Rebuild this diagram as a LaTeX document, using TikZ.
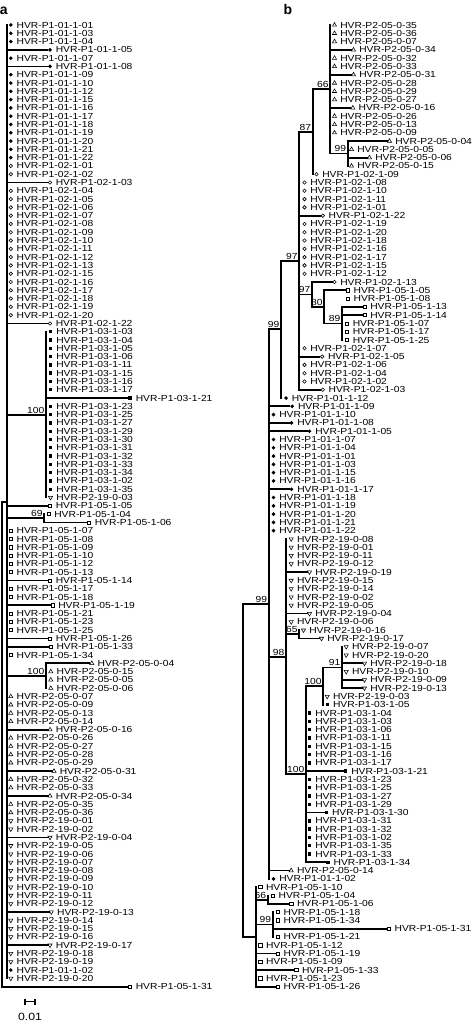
\documentclass[tikz,border=0pt]{standalone}
\usepackage{fontspec}
\usetikzlibrary{shapes.geometric,calc}
\newfontfamily\labfam[FakeStretch=1.17]{Liberation Sans}
\newfontfamily\hdfam{Liberation Sans}
\newcommand\labfont{\labfam\fontsize{8.8}{9}\selectfont}
\tikzset{
  mk/.style={inner sep=0pt, outer sep=0pt},
  mFC/.style={mk, circle, fill=black, minimum size=3.9pt},
  mOC/.style={mk, circle, draw=black, line width=0.6pt, minimum size=3.5pt},
  mFS/.style={mk, rectangle, fill=black, minimum size=3.4pt},
  mOS/.style={mk, rectangle, draw=black, line width=0.6pt, minimum size=3.2pt},
  mTU/.style={mk, regular polygon, regular polygon sides=3, draw=black, line width=0.55pt, minimum size=4.8pt},
  mTD/.style={mTU, shape border rotate=180},
  lab/.style={inner sep=0pt, anchor=west, font=\labfont},
  bs/.style={inner sep=0pt, anchor=south east, font=\labfont},
  br/.style={line width=1.8pt},
  brv/.style={line width=1.8pt, line cap=rect},
}
\newcommand\inode[4]{%
  \path let \p1=(#3), \p2=(#4) in coordinate (#1) at (#2pt,{0.5*\y1+0.5*\y2});
  \draw[brv] (#1 |- #3) -- (#1 |- #4);}
\newcommand\hb[2]{\draw[br] (#1 |- #2) -- (#2.west);}
\newcommand\bsl[2]{\node[bs] (bs#1) at ([xshift=-1.5pt,yshift=1.3pt]#1) {#2};}
\begin{document}
\begin{tikzpicture}[x=1pt,y=-1pt]
\path[use as bounding box, fill=white] (0,0) rectangle (473,1024);
% ---------------- panel a leaves
\foreach \rw/\mx/\sty/\txt in {
1/10.8/mFC/P1-01-1-01, 2/10.8/mFC/P1-01-1-03, 3/10.8/mFC/P1-01-1-04, 4/50/mFC/P1-01-1-05,
5/10.8/mFC/P1-01-1-07, 6/50/mFC/P1-01-1-08, 7/10.8/mFC/P1-01-1-09, 8/10.8/mFC/P1-01-1-10,
9/10.8/mFC/P1-01-1-12, 10/10.8/mFC/P1-01-1-15, 11/10.8/mFC/P1-01-1-16, 12/10.8/mFC/P1-01-1-17,
13/10.8/mFC/P1-01-1-18, 14/10.8/mFC/P1-01-1-19, 15/10.8/mFC/P1-01-1-20, 16/10.8/mFC/P1-01-1-21,
17/10.8/mFC/P1-01-1-22, 18/10.8/mOC/P1-02-1-01, 19/10.8/mOC/P1-02-1-02, 20/50/mOC/P1-02-1-03,
21/10.8/mOC/P1-02-1-04, 22/10.8/mOC/P1-02-1-05, 23/10.8/mOC/P1-02-1-06, 24/10.8/mOC/P1-02-1-07,
25/10.8/mOC/P1-02-1-08, 26/10.8/mOC/P1-02-1-09, 27/10.8/mOC/P1-02-1-10, 28/10.8/mOC/P1-02-1-11,
29/10.8/mOC/P1-02-1-12, 30/10.8/mOC/P1-02-1-13, 31/10.8/mOC/P1-02-1-15, 32/10.8/mOC/P1-02-1-16,
33/10.8/mOC/P1-02-1-17, 34/10.8/mOC/P1-02-1-18, 35/10.8/mOC/P1-02-1-19, 36/10.8/mOC/P1-02-1-20,
37/50/mOC/P1-02-1-22,
38/50.5/mFS/P1-03-1-03, 39/50.5/mFS/P1-03-1-04, 40/50.5/mFS/P1-03-1-05, 41/50.5/mFS/P1-03-1-06,
42/50.5/mFS/P1-03-1-11, 43/50.5/mFS/P1-03-1-15, 44/50.5/mFS/P1-03-1-16, 45/50.5/mFS/P1-03-1-17,
46/130/mFS/P1-03-1-21, 47/50.5/mFS/P1-03-1-23, 48/50.5/mFS/P1-03-1-25, 49/50.5/mFS/P1-03-1-27,
50/50.5/mFS/P1-03-1-29, 51/50.5/mFS/P1-03-1-30, 52/50.5/mFS/P1-03-1-31, 53/50.5/mFS/P1-03-1-32,
54/50.5/mFS/P1-03-1-33, 55/50.5/mFS/P1-03-1-34, 56/50.5/mFS/P1-03-1-02, 57/50.5/mFS/P1-03-1-35,
58/50.5/mTD/P2-19-0-03,
59/50/mOS/P1-05-1-05, 60/48.5/mOS/P1-05-1-04, 61/89/mOS/P1-05-1-06, 62/10.8/mOS/P1-05-1-07,
63/10.8/mOS/P1-05-1-08, 64/10.8/mOS/P1-05-1-09, 65/10.8/mOS/P1-05-1-10, 66/10.8/mOS/P1-05-1-12,
67/10.8/mOS/P1-05-1-13, 68/50/mOS/P1-05-1-14, 69/10.8/mOS/P1-05-1-17, 70/10.8/mOS/P1-05-1-18,
71/52.5/mOS/P1-05-1-19, 72/10.8/mOS/P1-05-1-21, 73/10.8/mOS/P1-05-1-23, 74/10.8/mOS/P1-05-1-25,
75/50/mOS/P1-05-1-26, 76/50.7/mOS/P1-05-1-33, 77/10.8/mOS/P1-05-1-34,
78/91.8/mTU/P2-05-0-04, 79/50.8/mTU/P2-05-0-15, 80/50.8/mTU/P2-05-0-05, 81/50.8/mTU/P2-05-0-06,
82/10.8/mTU/P2-05-0-07, 83/10.8/mTU/P2-05-0-09, 84/10.8/mTU/P2-05-0-13, 85/10.8/mTU/P2-05-0-14,
86/50/mTU/P2-05-0-16, 87/10.8/mTU/P2-05-0-26, 88/10.8/mTU/P2-05-0-27, 89/10.8/mTU/P2-05-0-28,
90/10.8/mTU/P2-05-0-29, 91/54/mTU/P2-05-0-31, 92/10.8/mTU/P2-05-0-32, 93/10.8/mTU/P2-05-0-33,
94/50/mTU/P2-05-0-34, 95/10.8/mTU/P2-05-0-35, 96/10.8/mTU/P2-05-0-36,
97/10.8/mTD/P2-19-0-01, 98/10.8/mTD/P2-19-0-02, 99/50/mTD/P2-19-0-04, 100/10.8/mTD/P2-19-0-05,
101/10.8/mTD/P2-19-0-06, 102/10.8/mTD/P2-19-0-07, 103/10.8/mTD/P2-19-0-08, 104/10.8/mTD/P2-19-0-09,
105/10.8/mTD/P2-19-0-10, 106/10.8/mTD/P2-19-0-11, 107/10.8/mTD/P2-19-0-12, 108/51.3/mTD/P2-19-0-13,
109/10.8/mTD/P2-19-0-14, 110/10.8/mTD/P2-19-0-15, 111/10.8/mTD/P2-19-0-16, 112/50/mTD/P2-19-0-17,
113/10.8/mTD/P2-19-0-18, 114/10.8/mTD/P2-19-0-19, 115/10.8/mFC/P1-01-1-02, 116/10.8/mTD/P2-19-0-20,
117/130/mOS/P1-05-1-31}{%
  \pgfmathsetmacro\yy{25+(\rw-1)*8.29}%
  \edef\tmp{\noexpand\node[\sty] (a\rw) at (\mx,\yy) {};}\tmp
  \node[lab] (la\rw) at ([xshift=5.6pt]a\rw.center) {HVR-\txt};
}
% panel a internal nodes
\inode{naC100}{46}{a38}{a58}
\inode{naC69}{44.3}{a60}{a61}
\inode{naC100b}{46}{a78}{a81}
\inode{naP}{7}{a1}{a116}
\inode{naR}{2.3}{naP}{a117}
\foreach \c in {4,6,20,37,59,68,71,75,76,86,91,94,99,108,112}{\hb{naP}{a\c}}
\hb{naC100}{a46}
\hb{naC69}{a61}
\hb{naC100b}{a78}
\hb{naR}{a117}
\hb{naP}{naC100}
\hb{naP}{naC69}
\hb{naP}{naC100b}
\hb{naR}{naP}
\bsl{naC100}{100}
\bsl{naC69}{69}
\bsl{naC100b}{100}
% ---------------- panel b leaves
\foreach \rw/\mx/\sty/\txt in {
1/334.5/mTU/P2-05-0-35, 2/334.5/mTU/P2-05-0-36, 3/334.5/mTU/P2-05-0-07, 4/353.5/mTU/P2-05-0-34,
5/334.5/mTU/P2-05-0-32, 6/334.5/mTU/P2-05-0-33, 7/353.5/mTU/P2-05-0-31, 8/334.5/mTU/P2-05-0-28,
9/334.5/mTU/P2-05-0-29, 10/334.5/mTU/P2-05-0-27, 11/352.8/mTU/P2-05-0-16, 12/334.5/mTU/P2-05-0-26,
13/334.5/mTU/P2-05-0-13, 14/334.5/mTU/P2-05-0-09, 15/389.5/mTU/P2-05-0-04, 16/351.5/mTU/P2-05-0-05,
17/369.5/mTU/P2-05-0-06, 18/351.5/mTU/P2-05-0-15,
19/316.5/mOC/P1-02-1-09, 20/304.5/mOC/P1-02-1-08, 21/304.5/mOC/P1-02-1-10, 22/304.5/mOC/P1-02-1-11,
23/304.5/mOC/P1-02-1-01, 24/322.8/mOC/P1-02-1-22, 25/304.5/mOC/P1-02-1-19, 26/304.5/mOC/P1-02-1-20,
27/304.5/mOC/P1-02-1-18, 28/304.5/mOC/P1-02-1-16, 29/304.5/mOC/P1-02-1-17, 30/304.5/mOC/P1-02-1-15,
31/304.5/mOC/P1-02-1-12, 32/334.5/mOC/P1-02-1-13,
33/347.8/mOS/P1-05-1-05, 34/347.8/mOS/P1-05-1-08, 35/364.5/mOS/P1-05-1-13, 36/364.5/mOS/P1-05-1-14,
37/347/mOS/P1-05-1-07, 38/347/mOS/P1-05-1-17, 39/347/mOS/P1-05-1-25,
40/304.5/mOC/P1-02-1-07, 41/322.2/mOC/P1-02-1-05, 42/304.5/mOC/P1-02-1-06, 43/304.5/mOC/P1-02-1-04,
44/304.5/mOC/P1-02-1-02, 45/322.8/mOC/P1-02-1-03,
46/286/mFC/P1-01-1-12, 47/292.2/mFC/P1-01-1-09, 48/273.5/mFC/P1-01-1-10, 49/291.5/mFC/P1-01-1-08,
50/309.5/mFC/P1-01-1-05, 51/273.5/mFC/P1-01-1-07, 52/273.5/mFC/P1-01-1-04, 53/273.5/mFC/P1-01-1-01,
54/273.5/mFC/P1-01-1-03, 55/273.5/mFC/P1-01-1-15, 56/273.5/mFC/P1-01-1-16, 57/291.5/mFC/P1-01-1-17,
58/273.5/mFC/P1-01-1-18, 59/273.5/mFC/P1-01-1-19, 60/273.5/mFC/P1-01-1-20, 61/273.5/mFC/P1-01-1-21,
62/273.5/mFC/P1-01-1-22,
63/291.2/mTD/P2-19-0-08, 64/291.2/mTD/P2-19-0-01, 65/291.2/mTD/P2-19-0-11, 66/291.2/mTD/P2-19-0-12,
67/309.5/mTD/P2-19-0-19, 68/291.2/mTD/P2-19-0-15, 69/291.2/mTD/P2-19-0-14, 70/291.2/mTD/P2-19-0-02,
71/291.2/mTD/P2-19-0-05, 72/309.5/mTD/P2-19-0-04, 73/291.2/mTD/P2-19-0-06, 74/303.5/mTD/P2-19-0-16,
75/321.5/mTD/P2-19-0-17, 76/346.2/mTD/P2-19-0-07, 77/346.2/mTD/P2-19-0-20, 78/364.5/mTD/P2-19-0-18,
79/346.2/mTD/P2-19-0-10, 80/364.5/mTD/P2-19-0-09, 81/364.5/mTD/P2-19-0-13, 82/327.2/mTD/P2-19-0-03,
83/327.2/mFS/P1-03-1-05, 84/309.5/mFS/P1-03-1-04, 85/309.5/mFS/P1-03-1-03, 86/309.5/mFS/P1-03-1-06,
87/309.5/mFS/P1-03-1-11, 88/309.5/mFS/P1-03-1-15, 89/309.5/mFS/P1-03-1-16, 90/309.5/mFS/P1-03-1-17,
91/345.5/mFS/P1-03-1-21, 92/309.5/mFS/P1-03-1-23, 93/309.5/mFS/P1-03-1-25, 94/309.5/mFS/P1-03-1-27,
95/309.5/mFS/P1-03-1-29, 96/326.2/mFS/P1-03-1-30, 97/309.5/mFS/P1-03-1-31, 98/309.5/mFS/P1-03-1-32,
99/309.5/mFS/P1-03-1-02, 100/309.5/mFS/P1-03-1-35, 101/309.5/mFS/P1-03-1-33, 102/327.8/mFS/P1-03-1-34,
103/291.2/mTU/P2-05-0-14, 104/273.5/mFC/P1-01-1-02,
105/260.2/mOS/P1-05-1-10, 106/272.8/mOS/P1-05-1-04, 107/291.2/mOS/P1-05-1-06, 108/277.8/mOS/P1-05-1-18,
109/277.8/mOS/P1-05-1-34, 110/388.8/mOS/P1-05-1-31, 111/277.8/mOS/P1-05-1-21, 112/260.2/mOS/P1-05-1-12,
113/277.8/mOS/P1-05-1-19, 114/260.2/mOS/P1-05-1-09, 115/296.2/mOS/P1-05-1-33, 116/260.2/mOS/P1-05-1-23,
117/277.8/mOS/P1-05-1-26}{%
  \pgfmathsetmacro\yy{25+(\rw-1)*8.29}%
  \edef\tmp{\noexpand\node[\sty] (b\rw) at (\mx,\yy) {};}\tmp
  \node[lab] (lb\rw) at ([xshift=5.6pt]b\rw.center) {HVR-\txt};
}
% panel b internal nodes
\inode{nbC99}{347.7}{b15}{b18}
\inode{nbA}{330.3}{b1}{nbC99}
\inode{nb66}{312.7}{nbA}{b19}
\inode{nb89}{342}{b35}{b39}
\inode{nb80}{324.3}{b33}{nb89}
\inode{nb97b}{312}{b32}{nb80}
\inode{nb97}{299.3}{nb66}{b45}
\inode{nb99u}{281}{nb97}{b46}
\inode{nb91}{342}{b76}{b81}
\inode{nb100i}{323.3}{nb91}{b83}
\inode{nb100}{306}{nb100i}{b102}
\inode{nb65}{299.3}{b74}{b75}
\inode{nb98}{286}{b63}{nb100}
\inode{nbU}{268.7}{nb99u}{b104}
\inode{nb66l}{267.7}{b106}{b107}
\inode{nb99l}{272.7}{b108}{b111}
\inode{nbL}{256}{b105}{b117}
\inode{nbR}{243.3}{nbU}{nbL}
% panel b horizontal branches
\foreach \c in {4,7,11}{\hb{nbA}{b\c}}
\foreach \c in {15,17}{\hb{nbC99}{b\c}}
\hb{nb97b}{b32}
\hb{nb80}{b33}
\foreach \c in {35,36}{\hb{nb89}{b\c}}
\foreach \c in {24,41,45}{\hb{nb97}{b\c}}
\foreach \c in {47,49,50,57,103}{\hb{nbU}{b\c}}
\foreach \c in {67,72}{\hb{nb98}{b\c}}
\hb{nb65}{b75}
\foreach \c in {78,80,81}{\hb{nb91}{b\c}}
\foreach \c in {91,96,102}{\hb{nb100}{b\c}}
\hb{nb66l}{b107}
\hb{nb99l}{b110}
\foreach \c in {113,115,117}{\hb{nbL}{b\c}}
\hb{nbA}{nbC99}
\hb{nb66}{nbA}
\hb{nb97}{nb66}
\hb{nb97}{nb97b}
\hb{nb97b}{nb80}
\hb{nb80}{nb89}
\hb{nb99u}{nb97}
\hb{nbU}{nb99u}
\hb{nbU}{nb98}
\hb{nb98}{nb65}
\hb{nb98}{nb100}
\hb{nb100}{nb100i}
\hb{nb100i}{nb91}
\hb{nbR}{nbU}
\hb{nbR}{nbL}
\hb{nbL}{nb66l}
\hb{nbL}{nb99l}
% bootstrap values
\bsl{nbA}{66}
\bsl{nb66}{87}
\bsl{nbC99}{99}
\bsl{nb97}{97}
\bsl{nb97b}{97}
\bsl{nb80}{80}
\bsl{nb89}{89}
\bsl{nb99u}{99}
\bsl{nbU}{99}
\bsl{nb98}{98}
\bsl{nb65}{65}
\bsl{nb91}{91}
\bsl{nb100i}{100}
\bsl{nb100}{100}
\bsl{nb66l}{66}
\bsl{nb99l}{99}
% panel letters
\node[inner sep=0pt, anchor=base west, font=\hdfam\bfseries\fontsize{14}{14}\selectfont] (pa) at (-0.3,15) {a};
\node[inner sep=0pt, anchor=base west, font=\hdfam\bfseries\fontsize{14}{14}\selectfont] (pb) at (283.5,15) {b};
% scale bar
\coordinate (sbL) at (25,1001.7);
\coordinate (sbR) at (35,1001.7);
\draw[line width=1.1pt] (sbL) -- (sbR);
\draw[line width=1.1pt] ([yshift=3.2pt]sbL) -- ([yshift=-3.2pt]sbL);
\draw[line width=1.1pt] ([yshift=3.2pt]sbR) -- ([yshift=-3.2pt]sbR);
\node[inner sep=0pt, font=\labfam\fontsize{10.5}{11}\selectfont] (sbt) at (30,1016.7) {0.01};
\end{tikzpicture}
\end{document}
